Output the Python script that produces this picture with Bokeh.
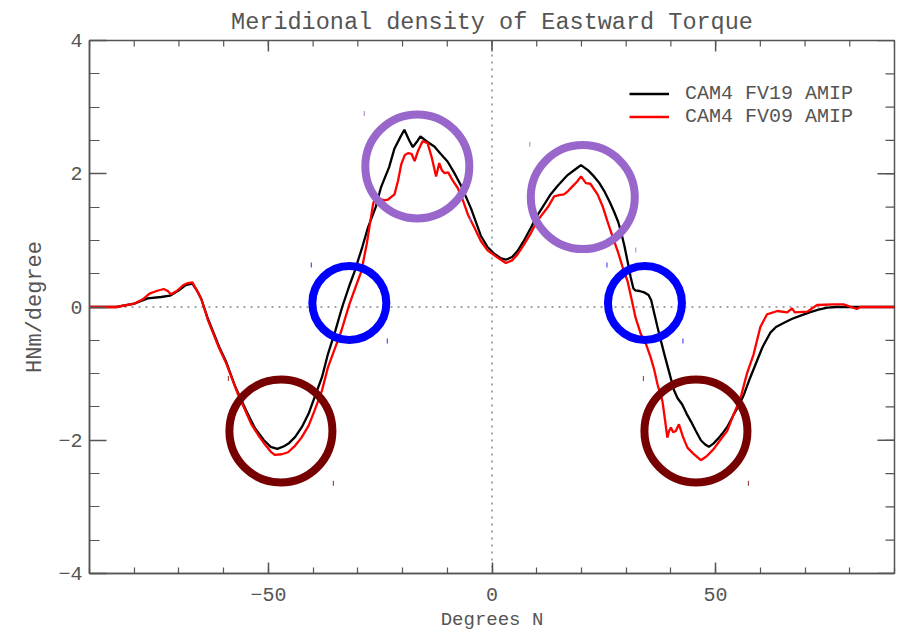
from bokeh.plotting import figure
from bokeh.models import FixedTicker, Span, Legend, LegendItem, Range1d
from bokeh.embed import file_html
from bokeh.resources import INLINE
import math

# ---- data ----
lat_fv19 = [-90, -84, -80, -77, -74, -72, -70, -68.5, -67, -66, -65, -63.5, -61, -59.4, -57.5,
            -55, -53, -51, -49.5, -48, -46.5, -45.5, -44, -42.5, -41, -39.7, -38, -36.7, -35,
            -33.5, -32, -30.7, -29, -27.7, -26, -24.8, -23, -21.8, -20.5, -19.6, -18.5, -17.7,
            -16.8, -16, -14.5, -12.9, -11.5, -9.9, -8.5, -6.9, -4.7, -2.5, -1, 0.5, 2, 3.1, 4.5,
            5.7, 7, 8.7, 10, 11.7, 13, 14.7, 16.9, 18.5, 19.9, 21.5, 22.8, 24, 25.1, 26.3, 27.3,
            28.2, 28.8, 29.6, 30.3, 31, 31.6, 32, 33, 34, 35, 35.6, 36.3, 37, 38.5, 39.7, 40.7,
            41.5, 42.5, 43.5, 44.5, 45.5, 46.7, 47.6, 48.5, 49.5, 50.5, 51.5, 52.6, 54, 55, 56.3,
            57.5, 59.3, 60.5, 62.3, 63.5, 65.2, 67, 69, 71, 73, 75, 77, 90]
val_fv19 = [0, 0, 0.05, 0.13, 0.15, 0.17, 0.25, 0.33, 0.35, 0.25, 0.12, -0.18, -0.6, -0.83, -1.18,
            -1.55, -1.82, -2.0, -2.1, -2.13, -2.09, -2.05, -1.95, -1.8, -1.6, -1.36, -1.05, -0.71, -0.35,
            0.0, 0.3, 0.54, 0.9, 1.2, 1.5, 1.8, 2.1, 2.38, 2.55, 2.66, 2.5, 2.4,
            2.48, 2.56, 2.48, 2.41, 2.3, 2.18, 2.02, 1.82, 1.48, 1.07, 0.9, 0.8, 0.73, 0.71, 0.75,
            0.84, 0.98, 1.19, 1.36, 1.54, 1.68, 1.82, 1.98, 2.06, 2.13, 2.05, 1.96, 1.86, 1.74, 1.58, 1.43,
            1.28, 1.14, 0.92, 0.69, 0.45, 0.28, 0.25, 0.24, 0.22, 0.18, 0.1, -0.1, -0.3, -0.7, -1.0, -1.25,
            -1.37, -1.46, -1.6, -1.72, -1.85, -2.0, -2.06, -2.1, -2.05, -1.98, -1.9, -1.8, -1.62, -1.5, -1.32,
            -1.1, -0.8, -0.6, -0.38, -0.3, -0.24, -0.18, -0.13, -0.08, -0.04, -0.01, 0.0, 0]

lat_fv09 = [-90, -84, -80, -78, -76.6, -75, -73.4, -72.5, -71.8, -70.5, -69, -68, -67, -66, -65,
            -63.5, -61, -59.4, -56.8, -55, -53.8, -52, -50.8, -49.5, -48.6, -47, -45.6, -44, -42.6,
            -41, -39.7, -38, -36.7, -35, -33.7, -31.9, -30.5, -29.2, -28, -26.6, -25.9, -25, -24,
            -23.3, -21.8, -21, -20.3, -19.5, -18.8, -18, -17.3, -16.5, -15.5, -14.4, -13.5, -12.5,
            -11.8, -11.2, -10.6, -9.8, -8.8, -7.7, -6.5, -5.4, -4, -2.5, -1, 1.3, 3.1, 4.5, 5.7, 7,
            8.7, 10, 10.9, 12.5, 13.9, 15, 16.1, 17, 18, 19, 19.9, 21, 22, 23.6, 24.8, 25.8, 27, 28.1,
            29.2, 30.3, 31.2, 32.1, 33.3, 34.4, 35.5, 36.3, 37, 38.1, 38.7, 39.2, 39.6, 40, 40.5, 41.1,
            41.8, 42.7, 43.7, 45, 46.7, 48, 49.6, 51, 52.6, 54.1, 55.6, 57, 58.5, 60, 61.5, 63.8, 66,
            67.1, 67.7, 70.5, 72.7, 76.4, 78.6, 81.6, 82.3, 90]
val_fv09 = [0, 0, 0.05, 0.12, 0.2, 0.24, 0.27, 0.24, 0.19, 0.24, 0.33, 0.36, 0.37, 0.25, 0.12,
            -0.2, -0.62, -0.85, -1.31, -1.58, -1.76, -1.95, -2.06, -2.17, -2.22, -2.21, -2.18, -2.08, -1.96,
            -1.78, -1.56, -1.25, -0.91, -0.6, -0.36, 0.04, 0.3, 0.54, 0.95, 1.54, 1.69, 1.62, 1.6,
            1.61, 1.69, 1.9, 2.14, 2.28, 2.31, 2.3, 2.19, 2.35, 2.49, 2.46, 2.25, 1.96,
            2.16, 2.05, 2.01, 2.02, 1.9, 1.79, 1.6, 1.39, 1.2, 0.99, 0.85, 0.74, 0.66, 0.7, 0.79, 0.92,
            1.11, 1.28, 1.36, 1.5, 1.66, 1.68, 1.69, 1.74, 1.81, 1.88, 1.96, 1.86, 1.85, 1.69, 1.5, 1.29, 1.05, 0.84,
            0.6, 0.39, 0.12, -0.16, -0.41, -0.55, -0.76, -0.95, -1.16, -1.41, -1.7, -1.96, -1.86, -1.81, -1.88, -1.86,
            -1.76, -1.95, -2.11, -2.2, -2.3, -2.24, -2.13, -2.0, -1.86, -1.6, -1.36, -1.0, -0.71, -0.3, -0.11, -0.06, -0.08,
            -0.02, -0.08, -0.07, 0.03, 0.04, 0.04, -0.03, 0, 0]

series_names = ["CAM4 FV19 AMIP", "CAM4 FV09 AMIP"]
series_colors = ["#000000", "#ff0000"]

x_major = [-50, 0, 50]
x_minor = list(range(-90, 91, 10))
y_major = [-4, -2, 0, 2, 4]
y_minor = [v / 2 for v in range(-8, 9)]
x_tick_labels = {-50: "\u221250", 0: "0", 50: "50"}
y_tick_labels = {-4: "\u22124", -2: "\u22122", 0: "0", 2: "2", 4: "4"}

# highlight circles (annotation)
circle_x = [-16.7, 20.3, -31.9, 34.2, -47.2, 45.6]
circle_y = [2.11, 1.65, 0.06, 0.06, -1.86, -1.86]
circle_d = [104, 104, 74, 74, 103, 103]
circle_color = ["#9966cc", "#9966cc", "#0000ff", "#0000ff", "#770000", "#770000"]

FONT = "Liberation Mono"
TXT = "#555555"
AX = "#555555"

X0, X1 = -90, 90
Y0, Y1 = y_major[0], y_major[-1]

p = figure(width=900, height=633, output_backend="svg", toolbar_location=None,
           x_range=Range1d(X0, X1), y_range=Range1d(Y0, Y1),
           min_border_left=89, min_border_right=6, min_border_top=40, min_border_bottom=59,
           background_fill_color="white", border_fill_color="white")
p.grid.visible = False
p.outline_line_color = AX
p.outline_line_width = 1.5

p.title.text = "Meridional density of Eastward Torque"
p.title.align = "center"
p.title.text_font = FONT
p.title.text_font_size = "23.5px"
p.title.text_font_style = "normal"
p.title.text_color = TXT
p.title.standoff = 10

xt = FixedTicker(ticks=x_major, minor_ticks=x_minor)
yt = FixedTicker(ticks=y_major, minor_ticks=y_minor)

def style_axis(ax, tick_in, minor_in):
    ax.axis_line_color = AX
    ax.axis_line_width = 1.5
    ax.major_tick_line_color = AX
    ax.minor_tick_line_color = AX
    ax.major_tick_line_width = 1.5
    ax.minor_tick_line_width = 1.2
    ax.major_tick_in = tick_in
    ax.major_tick_out = 0
    ax.minor_tick_in = minor_in
    ax.minor_tick_out = 0
    ax.major_label_text_font = FONT
    ax.major_label_text_font_size = "20px"
    ax.major_label_text_color = TXT
    ax.axis_label_text_font = FONT
    ax.axis_label_text_font_style = "normal"
    ax.axis_label_text_color = TXT

xa = p.xaxis[0]
xa.ticker = xt
xa.major_label_overrides = x_tick_labels
style_axis(xa, 11, 6)
xa.axis_label = "Degrees N"
xa.axis_label_text_font_size = "19px"
xa.major_label_standoff = 14
xa.axis_label_standoff = 5

ya = p.yaxis[0]
ya.ticker = yt
ya.major_label_overrides = y_tick_labels
style_axis(ya, 17, 10)
ya.axis_label = "HNm/degree"
ya.axis_label_text_font_size = "22px"
ya.major_label_standoff = 7
ya.axis_label_standoff = 7

# inward ticks on top and right edges of the box
p.ray(x=x_minor, y=[Y1] * len(x_minor), length=6, angle=-math.pi / 2, length_units="screen",
      line_color=AX, line_width=1.2)
p.ray(x=x_major, y=[Y1] * len(x_major), length=11, angle=-math.pi / 2, length_units="screen",
      line_color=AX, line_width=1.5)
p.ray(x=[X1] * len(y_minor), y=y_minor, length=9, angle=math.pi, length_units="screen",
      line_color=AX, line_width=1.2)
p.ray(x=[X1] * len(y_major), y=y_major, length=17, angle=math.pi, length_units="screen",
      line_color=AX, line_width=1.5)

p.add_layout(Span(location=0, dimension="width", line_color="#888888", line_width=1.5,
                  line_dash="2 5", level="underlay"))
p.add_layout(Span(location=0, dimension="height", line_color="#888888", line_width=1.5,
                  line_dash="2 5", level="underlay"))

r1 = p.line(lat_fv19, val_fv19, line_color=series_colors[0], line_width=2.3)
r2 = p.line(lat_fv09, val_fv09, line_color=series_colors[1], line_width=2.3)

# highlight circles
p.scatter(circle_x, circle_y, marker="circle", size=circle_d, fill_color=None,
          line_color=circle_color, line_width=8)

# small corner marks of circle bounding boxes
px_per_x = 805 / float(X1 - X0)
px_per_y = 534 / float(Y1 - Y0)
mx, my, mc = [], [], []
for cx, cy, d, c in zip(circle_x, circle_y, circle_d, circle_color):
    off = d / 2.0 + 1
    mx += [cx - off / px_per_x, cx + off / px_per_x]
    my += [cy + off / px_per_y, cy - off / px_per_y]
    mc += [c, c]
p.scatter(mx, my, marker="dash", angle=math.pi / 2, size=5, line_color=mc, line_width=1.2,
          line_alpha=0.7)

legend = Legend(items=[LegendItem(label=series_names[0], renderers=[r1]),
                       LegendItem(label=series_names[1], renderers=[r2])],
                location=(540, 445), glyph_width=40, glyph_height=23, label_height=23,
                spacing=0, padding=0, margin=0, label_standoff=16,
                border_line_color=None, background_fill_alpha=0,
                label_text_font=FONT, label_text_font_size="20px", label_text_color=TXT)
p.add_layout(legend)

open("out.html", "w").write(file_html(p, INLINE))
